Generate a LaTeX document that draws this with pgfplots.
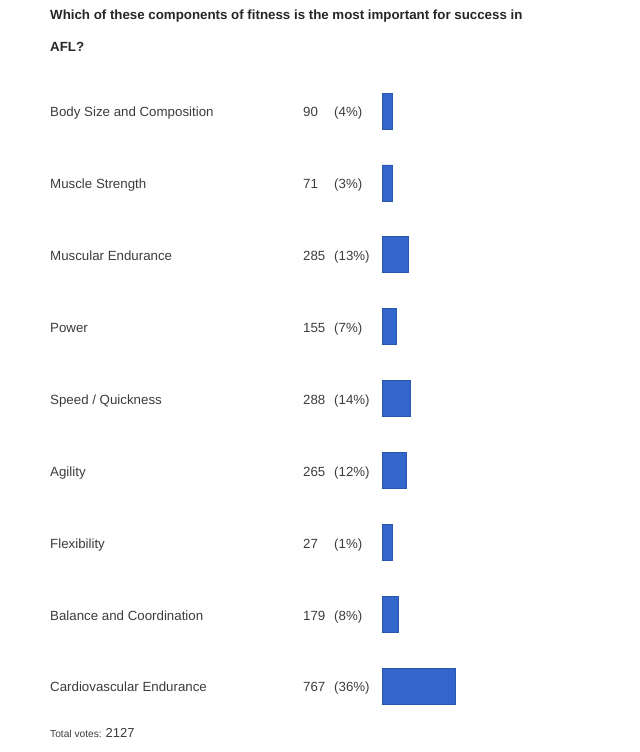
\documentclass[border=0pt]{standalone}
\usepackage{pgfplots}
\usepackage{pgfplotstable}
\pgfplotsset{compat=1.18}
\usepackage{fontspec}
\setmainfont{Liberation Sans}
\definecolor{pollblue}{HTML}{3366CC}
\definecolor{txt}{HTML}{3C3C3C}

\pgfplotstableread[col sep=comma]{
label,votes,pct
Body Size and Composition,90,4
Muscle Strength,71,3
Muscular Endurance,285,13
Power,155,7
Speed / Quickness,288,14
Agility,265,12
Flexibility,27,1
Balance and Coordination,179,8
Cardiovascular Endurance,767,36
}\data

\begin{document}
\begin{tikzpicture}
\path[use as bounding box] (0,0) rectangle (640bp,-752bp);
\node[anchor=base west, inner sep=0pt, text=black!85, font=\fontsize{13.3bp}{16bp}\selectfont\bfseries]
  at (50bp,-19.5bp) {Which of these components of fitness is the most important for success in};
\node[anchor=base west, inner sep=0pt, text=black!85, font=\fontsize{13.3bp}{16bp}\selectfont\bfseries]
  at (50bp,-51bp) {AFL?};
\begin{axis}[
    at={(382bp,-75.06bp)}, anchor=north west,
    scale only axis,
    width=204bp, height=646.9bp,
    xbar, bar width=36bp,
    xmin=0, xmax=100,
    ymin=-0.5, ymax=8.5,
    y dir=reverse,
    axis line style={draw=none},
    major tick length=0pt,
    xtick=\empty,
    ytick={0,...,8},
    typeset ticklabels with strut,
    yticklabel style={anchor=west, inner sep=0pt, xshift=-332bp, yshift=-2.5bp, text=txt,
      font=\fontsize{13.3bp}{16bp}\selectfont},
    yticklabel={%
      \pgfplotstablegetelem{\ticknum}{votes}\of\data\let\v\pgfplotsretval
      \pgfplotstablegetelem{\ticknum}{pct}\of\data\let\p\pgfplotsretval
      \pgfplotstablegetelem{\ticknum}{label}\of\data
      \makebox[253bp][l]{\pgfplotsretval}\makebox[31bp][l]{\v}(\p\%)},
    clip=false,
    ]
% the poll draws tiny shares with a minimum bar length
\addplot[draw=pollblue!85!black, fill=pollblue, line width=0.6pt]
  table[x expr={max(\thisrow{pct},5)}, y expr=\coordindex] {\data};
\end{axis}
\node[anchor=base west, inner sep=0pt, text=txt] at (50bp,-737bp)
  {\fontsize{10.2bp}{13bp}\selectfont Total votes: \fontsize{13bp}{16bp}\selectfont 2127};
\end{tikzpicture}
\end{document}
